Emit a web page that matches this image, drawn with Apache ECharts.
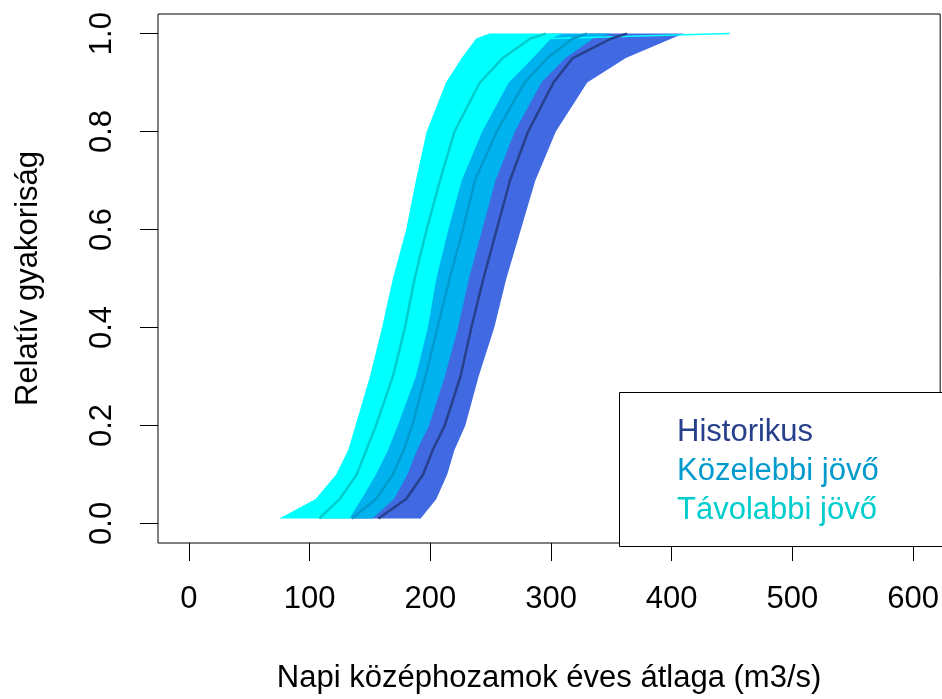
<!DOCTYPE html>
<html>
<head>
<meta charset="utf-8">
<script src="https://cdn.jsdelivr.net/npm/echarts@6/dist/echarts.min.js"></script>
<style>
  html, body { margin: 0; padding: 0; background: #fff; }
  #chart { width: 942px; height: 699px; }
</style>
</head>
<body>
<div id="chart"></div>
<script>
// relatív gyakoriság szintek (y)
const levels = [0.01, 0.05, 0.1, 0.15, 0.2, 0.3, 0.4, 0.5, 0.6, 0.7, 0.8, 0.9, 0.95, 0.99, 1.0];

// sávok bal / jobb széle és átlaga (m3/s) az egyes szinteken
const histLeft  = [137, 157, 171, 180, 187, 198, 208, 218, 229, 239, 257, 280, 299, 320, 332];
const histRight = [192, 205, 214, 220, 229, 240, 253, 263, 275, 287, 304, 330, 362, 400, 410];
const histMean  = [157, 180, 194, 202, 212, 225, 234, 244, 255, 266, 281, 302, 318, 350, 363];

const kozLeft  = [110, 128, 142, 150, 158, 171, 181, 189, 199, 209, 222, 243, 262, 285, 298];
const kozRight = [152, 170, 181, 189, 199, 212, 223, 232, 243, 254, 270, 292, 312, 335, 350];
const kozMean  = [135, 155, 169, 178, 185, 196, 206, 216, 227, 237, 255, 278, 297, 318, 330];

const tavLeft  = [75, 105, 122, 132, 138, 150, 160, 169, 180, 188, 197, 213, 226, 238, 249];
const tavRight = [133, 143, 155, 165, 173, 188, 198, 205, 215, 226, 243, 265, 285, 300, 310];
const tavMean  = [108, 125, 139, 147, 155, 169, 179, 187, 197, 208, 220, 241, 260, 283, 296];

// egy kilógó távolabbi görbe vége
const tavTailX = [300, 448];
const tavTailY = [0.99, 1.0];

const xTicks = [0, 100, 200, 300, 400, 500, 600];
const yTicks = [0, 0.2, 0.4, 0.6, 0.8, 1.0];

const seriesNames = ['Historikus', 'Közelebbi jövő', 'Távolabbi jövő'];
const bandColors = ['#4169E1', '#00B2EE', '#00FFFF'];
const meanColors = ['#27408B', '#009ACD', '#00CDCD'];

const font = "'Liberation Sans', Arial, sans-serif";

const chart = echarts.init(document.getElementById('chart'));

// sáv: bal szél felfelé, jobb szél lefelé -> sokszög
function bandSeries(left, right, color) {
  return {
    type: 'custom',
    data: [0],
    silent: true,
    z: 2,
    renderItem: (params, api) => {
      const pts = [];
      for (let i = 0; i < levels.length; i++) pts.push(api.coord([left[i], levels[i]]));
      for (let i = levels.length - 1; i >= 0; i--) pts.push(api.coord([right[i], levels[i]]));
      return { type: 'polygon', shape: { points: pts }, style: { fill: color } };
    }
  };
}

function meanSeries(name, xs, color) {
  return {
    name: name,
    type: 'line',
    data: levels.map((p, i) => [xs[i], p]),
    showSymbol: false,
    silent: true,
    z: 4,
    color: color,
    lineStyle: { color: color, width: 2.5 }
  };
}

const option = {
  animation: false,
  backgroundColor: '#fff',
  grid: {
    left: 158,
    top: 14,
    right: 0,
    bottom: 152,
    show: true,
    borderColor: '#000',
    borderWidth: 1
  },
  xAxis: {
    type: 'value',
    min: -25.6,
    max: 622.4,
    axisLine: { show: false, onZero: false },
    splitLine: { show: false },
    axisTick: { customValues: xTicks, length: 18, lineStyle: { color: '#000', width: 1 } },
    axisLabel: {
      customValues: xTicks,
      fontSize: 31,
      fontFamily: font,
      color: '#000',
      margin: 41
    },
    name: 'Napi középhozamok éves átlaga (m3/s)',
    nameLocation: 'middle',
    nameGap: 120,
    nameTextStyle: { fontSize: 31, fontFamily: font, color: '#000' }
  },
  yAxis: {
    type: 'value',
    min: -0.04,
    max: 1.04,
    axisLine: { show: false, onZero: false },
    splitLine: { show: false },
    axisTick: { customValues: yTicks, length: 18, lineStyle: { color: '#000', width: 1 } },
    axisLabel: {
      customValues: yTicks,
      rotate: 90,
      fontSize: 31,
      fontFamily: font,
      color: '#000',
      margin: 40,
      formatter: v => v.toFixed(1)
    },
    name: 'Relatív gyakoriság',
    nameLocation: 'middle',
    nameGap: 114,
    nameTextStyle: { fontSize: 31, fontFamily: font, color: '#000' }
  },
  legend: {
    orient: 'vertical',
    left: 667,
    top: 408,
    icon: 'none',
    itemWidth: 0,
    itemHeight: 10,
    itemGap: 0,
    selectedMode: false,
    data: seriesNames.map((n, i) => ({ name: n, textStyle: { color: meanColors[i] } })),
    textStyle: { fontSize: 31, fontFamily: font, lineHeight: 39 },
    z: 10
  },
  graphic: [{
    type: 'rect',
    z: 5,
    shape: { x: 619.5, y: 392.5, width: 400, height: 154 },
    style: { fill: '#fff', stroke: '#000', lineWidth: 1 }
  }],
  series: [
    bandSeries(histLeft, histRight, bandColors[0]),
    bandSeries(kozLeft, kozRight, bandColors[1]),
    bandSeries(tavLeft, tavRight, bandColors[2]),
    {
      type: 'line',
      data: tavTailX.map((x, i) => [x, tavTailY[i]]),
      showSymbol: false,
      silent: true,
      z: 3,
      lineStyle: { color: bandColors[2], width: 1.5 }
    },
    meanSeries(seriesNames[0], histMean, meanColors[0]),
    meanSeries(seriesNames[1], kozMean, meanColors[1]),
    meanSeries(seriesNames[2], tavMean, meanColors[2])
  ]
};

chart.setOption(option);
</script>
</body>
</html>
